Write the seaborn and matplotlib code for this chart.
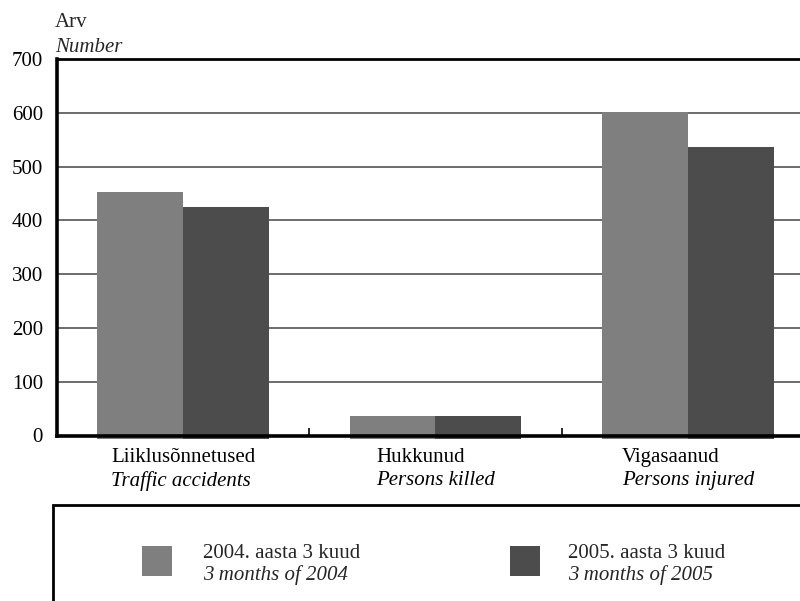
import matplotlib
matplotlib.use("Agg")
import matplotlib.pyplot as plt
from matplotlib.patches import Rectangle
from matplotlib.offsetbox import TextArea, VPacker, AnnotationBbox
import seaborn as sns
import pandas as pd

# Traffic accident statistics, first three months of the year
categories_et = ["Liiklusõnnetused", "Hukkunud", "Vigasaanud"]
categories_en = ["Traffic accidents", "Persons killed", "Persons injured"]
series_et = ["2004. aasta 3 kuud", "2005. aasta 3 kuud"]
series_en = ["3 months of 2004", "3 months of 2005"]
values_2004 = [453, 36, 602]
values_2005 = [425, 36, 537]
y_ticks = [0, 100, 200, 300, 400, 500, 600, 700]
colors = ["#7f7f7f", "#4c4c4c"]

sns.set_theme(style="white")
plt.rcParams["font.family"] = ["Liberation Serif", "DejaVu Serif"]
FS = 15

df = pd.DataFrame({
    "category": categories_et * 2,
    "series": [series_et[0]] * 3 + [series_et[1]] * 3,
    "value": values_2004 + values_2005,
})

fig = plt.figure(figsize=(8.0, 6.01), dpi=100)
W, H = 800, 601
ax = fig.add_axes([57 / W, 1 - 435.5 / H, (814 - 57) / W, (435.5 - 59) / H])

sns.barplot(data=df, x="category", y="value", hue="series", order=categories_et,
            hue_order=series_et, palette=colors, width=0.68, gap=0,
            saturation=1, legend=False, ax=ax, zorder=3, linewidth=0)

# bars sit slightly below the base line
for p in ax.patches:
    p.set_y(-7)
    p.set_height(p.get_height() + 7)
    p.set_clip_on(False)

ax.set_xlim(-0.5, 2.5)
ax.set_ylim(0, 700)
ax.set_yticks(y_ticks)
ax.set_yticklabels([str(v) for v in y_ticks], fontsize=FS, color="black")
ax.tick_params(axis="y", length=0, pad=10)
ax.set_xlabel("")
ax.set_ylabel("")

# gridlines
ax.yaxis.grid(True, color="#444444", linewidth=1.1, zorder=0)
ax.set_axisbelow(True)

for side in ("left", "bottom", "top"):
    ax.spines[side].set_visible(True)
    ax.spines[side].set_color("black")
ax.spines["left"].set_linewidth(2.6)
ax.spines["bottom"].set_linewidth(2.6)
ax.spines["top"].set_linewidth(2.0)
ax.spines["right"].set_visible(False)
for s in ax.spines.values():
    s.set_zorder(5)

# separators between categories
ax.set_xticks([0.5, 1.5])
ax.set_xticklabels(["", ""])
ax.tick_params(axis="x", direction="in", length=6, width=1.2, color="black", bottom=True)

# two-line category labels
for i, (et, en) in enumerate(zip(categories_et, categories_en)):
    box = VPacker(children=[
        TextArea(et, textprops=dict(fontsize=FS, color="black")),
        TextArea(en, textprops=dict(fontsize=FS, color="black", style="italic")),
    ], align="left", pad=0, sep=3)
    ab = AnnotationBbox(box, (i, 0), xycoords=("data", "axes fraction"),
                        xybox=(0, -9), boxcoords="offset points",
                        box_alignment=(0.5, 1), frameon=False, annotation_clip=False)
    ax.add_artist(ab)

# axis title
fig.text(55 / W, 1 - 27 / H, "Arv", fontsize=FS, va="baseline", ha="left")
fig.text(55 / W, 1 - 52 / H, "Number", fontsize=FS, va="baseline", ha="left", style="italic")

# legend panel
fig.patches.append(Rectangle((52.7 / W, -0.05), 1.0, 1 - 505 / H + 0.05,
                             transform=fig.transFigure, fill=False,
                             edgecolor="black", linewidth=2.0))
marker_x = [142, 510]
text_x = [203, 568]
for j in range(2):
    fig.patches.append(Rectangle((marker_x[j] / W, 1 - 576 / H), 30 / W, 30 / H,
                                 transform=fig.transFigure, facecolor=colors[j],
                                 edgecolor="none"))
    fig.text(text_x[j] / W, 1 - 558 / H, series_et[j], fontsize=FS, va="baseline", ha="left")
    fig.text(text_x[j] / W, 1 - 580 / H, series_en[j], fontsize=FS, va="baseline",
             ha="left", style="italic")

fig.savefig("out.png", dpi=100)
